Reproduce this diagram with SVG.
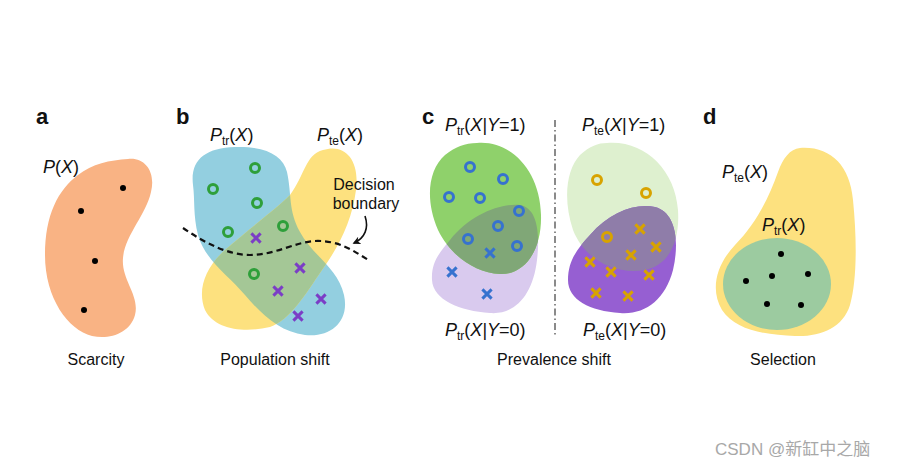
<svg xmlns="http://www.w3.org/2000/svg" xmlns:xlink="http://www.w3.org/1999/xlink" width="900" height="467" viewBox="0 0 900 467">
<style>
text{font-family:"Liberation Sans",Arial,Helvetica,sans-serif;fill:#111}
.lbl{font-size:22px;font-weight:bold}
.cap{font-size:16px;text-anchor:middle}
.m{font-size:18px}
.i{font-style:italic}
.dot{fill:#000}
.wm{font-family:"Liberation Sans","Noto Sans CJK SC",sans-serif;font-size:17px;fill:#a8a8a8}
</style>
<defs>
<circle id="o" r="4.5" fill="none" stroke-width="3"/>
<path id="x" d="M-4.6,-4.6L4.6,4.6M-4.6,4.6L4.6,-4.6" fill="none" stroke-width="3"/>
<path id="bBlue" d="M193,185 C190,160 205,148 235,147 C265,146 283,155 287,172 C292,195 288,210 300,232 C312,255 338,268 344,295 C350,322 330,338 305,335 C280,332 262,315 245,295 C228,275 205,260 198,235 C193,215 195,200 193,185 Z"/>
<path id="bYellow" d="M323,150 C345,143 360,160 356,190 C352,220 340,245 322,270 C305,295 290,320 270,327 C245,333 215,330 205,310 C197,290 205,268 225,250 C250,228 275,210 290,195 C305,175 305,155 323,150 Z"/>
<path id="cGreen" d="M477,143 C510,140 540,170 541,215 C542,250 525,275 500,274 C475,273 450,255 438,230 C425,200 428,170 445,155 C455,147 465,143 477,143 Z"/>
<path id="cLav" d="M450,240 C470,215 500,203 520,205 C538,208 540,235 537,260 C533,295 515,315 490,313 C460,311 433,300 432,280 C431,262 440,252 450,240 Z"/>
<path id="cLight" d="M607,143 C645,140 675,170 678,210 C680,240 670,265 645,270 C615,275 585,260 573,230 C563,200 566,170 580,155 C590,146 598,143 607,143 Z"/>
<path id="cPurple" d="M590,235 C610,212 635,203 655,207 C675,212 680,240 673,270 C665,300 645,315 620,313 C590,311 568,300 568,280 C568,260 578,248 590,235 Z"/>
<clipPath id="clipBlue"><use xlink:href="#bBlue"/></clipPath>
<clipPath id="clipGreen"><use xlink:href="#cGreen"/></clipPath>
<clipPath id="clipLight"><use xlink:href="#cLight"/></clipPath>
<marker id="ah" viewBox="0 0 10 10" refX="8" refY="5" markerWidth="8" markerHeight="8" orient="auto" markerUnits="userSpaceOnUse">
<path d="M0,0 L10,5 L0,10 L3,5 Z" fill="#111"/>
</marker>
</defs>

<g id="panel-a">
<text class="lbl" x="36" y="124">a</text>
<path id="a-blob" d="M128,159 C145,157 156,172 151,192 C146,215 125,235 123,258 C121,280 140,295 135,315 C130,333 110,340 92,336 C68,330 45,298 45,255 C45,215 58,190 78,175 C92,164 110,160 128,159 Z" fill="#F9B384"/>
<circle class="dot" cx="123" cy="188" r="3"/>
<circle class="dot" cx="81" cy="211" r="3"/>
<circle class="dot" cx="95" cy="261" r="3"/>
<circle class="dot" cx="84" cy="310" r="3"/>
<text class="m" x="43" y="173"><tspan class="i">P</tspan>(<tspan class="i">X</tspan>)</text>
<text class="cap" x="96" y="365">Scarcity</text>
</g>

<g id="panel-b">
<text class="lbl" x="176" y="124">b</text>
<g id="b-train">
<use xlink:href="#bBlue" fill="#93CFE0"/>
</g>
<g id="b-test">
<use xlink:href="#bYellow" fill="#FDE17F"/>
<use xlink:href="#bYellow" fill="#A4C796" clip-path="url(#clipBlue)"/>
</g>
<g id="b-points">
<use xlink:href="#o" x="255" y="168" stroke="#2E9F3A"/>
<use xlink:href="#o" x="213" y="189" stroke="#2E9F3A"/>
<use xlink:href="#o" x="257" y="203" stroke="#2E9F3A"/>
<use xlink:href="#o" x="283" y="226" stroke="#2E9F3A"/>
<use xlink:href="#o" x="228" y="232" stroke="#2E9F3A"/>
<use xlink:href="#o" x="254" y="274" stroke="#2E9F3A"/>
<use xlink:href="#x" x="256" y="238" stroke="#7B3DC6"/>
<use xlink:href="#x" x="300" y="268" stroke="#7B3DC6"/>
<use xlink:href="#x" x="278" y="291" stroke="#7B3DC6"/>
<use xlink:href="#x" x="321" y="299" stroke="#7B3DC6"/>
<use xlink:href="#x" x="298" y="316" stroke="#7B3DC6"/>
</g>
<path id="b-boundary" d="M183,228 C205,243 228,255 250,255 C275,255 295,242 315,241 C340,240 355,252 370,261" fill="none" stroke="#111" stroke-width="2.2" stroke-dasharray="6,4"/>
<text class="m" x="210" y="141"><tspan class="i">P</tspan><tspan font-size="12" dy="4">tr</tspan><tspan dy="-4">(</tspan><tspan class="i">X</tspan>)</text>
<text class="m" x="317" y="141"><tspan class="i">P</tspan><tspan font-size="12" dy="4">te</tspan><tspan dy="-4">(</tspan><tspan class="i">X</tspan>)</text>
<text class="cap" x="364" y="190">Decision</text>
<text class="cap" x="366" y="209">boundary</text>
<text class="cap" x="275" y="365">Population shift</text>
</g>

<g id="panel-c">
<text class="lbl" x="422" y="124">c</text>
<g id="c-train">
<use xlink:href="#cLav" fill="#D9CAEE"/>
<use xlink:href="#cGreen" fill="#8FD16B"/>
<use xlink:href="#cLav" fill="#80A777" clip-path="url(#clipGreen)"/>
</g>
<g id="c-test">
<use xlink:href="#cLight" fill="#DEF0CF"/>
<use xlink:href="#cPurple" fill="#965FD2"/>
<use xlink:href="#cPurple" fill="#8F7DA9" clip-path="url(#clipLight)"/>
</g>
<g id="c-points">
<use xlink:href="#o" x="470" y="167" stroke="#3672CF"/>
<use xlink:href="#o" x="503" y="179" stroke="#3672CF"/>
<use xlink:href="#o" x="449" y="197" stroke="#3672CF"/>
<use xlink:href="#o" x="480" y="198" stroke="#3672CF"/>
<use xlink:href="#o" x="519" y="211" stroke="#3672CF"/>
<use xlink:href="#o" x="498" y="226" stroke="#3672CF"/>
<use xlink:href="#o" x="468" y="239" stroke="#3672CF"/>
<use xlink:href="#o" x="517" y="246" stroke="#3672CF"/>
<use xlink:href="#x" x="490" y="253" stroke="#3672CF" stroke-width="2.5"/>
<use xlink:href="#x" x="452" y="272" stroke="#3672CF" stroke-width="2.5"/>
<use xlink:href="#x" x="487" y="294" stroke="#3672CF" stroke-width="2.5"/>
<use xlink:href="#o" x="597" y="180" stroke="#D8A300"/>
<use xlink:href="#o" x="646" y="193" stroke="#D8A300"/>
<use xlink:href="#o" x="607" y="237" stroke="#D8A300"/>
<use xlink:href="#x" x="640" y="229" stroke="#D8A300" stroke-width="2.5"/>
<use xlink:href="#x" x="656" y="247" stroke="#D8A300" stroke-width="2.5"/>
<use xlink:href="#x" x="631" y="255" stroke="#D8A300" stroke-width="2.5"/>
<use xlink:href="#x" x="590" y="262" stroke="#D8A300" stroke-width="2.5"/>
<use xlink:href="#x" x="611" y="272" stroke="#D8A300" stroke-width="2.5"/>
<use xlink:href="#x" x="649" y="275" stroke="#D8A300" stroke-width="2.5"/>
<use xlink:href="#x" x="596" y="293" stroke="#D8A300" stroke-width="2.5"/>
<use xlink:href="#x" x="628" y="296" stroke="#D8A300" stroke-width="2.5"/>
</g>
<line id="c-divider" x1="555" y1="120" x2="555" y2="337" stroke="#8a8a8a" stroke-width="2" stroke-dasharray="7,3,1.5,3"/>
<text class="m" x="445" y="131"><tspan class="i">P</tspan><tspan font-size="12" dy="4">tr</tspan><tspan dy="-4">(</tspan><tspan class="i">X</tspan>|<tspan class="i">Y</tspan>=1)</text>
<text class="m" x="582" y="131"><tspan class="i">P</tspan><tspan font-size="12" dy="4">te</tspan><tspan dy="-4">(</tspan><tspan class="i">X</tspan>|<tspan class="i">Y</tspan>=1)</text>
<text class="m" x="445" y="336"><tspan class="i">P</tspan><tspan font-size="12" dy="4">tr</tspan><tspan dy="-4">(</tspan><tspan class="i">X</tspan>|<tspan class="i">Y</tspan>=0)</text>
<text class="m" x="583" y="336"><tspan class="i">P</tspan><tspan font-size="12" dy="4">te</tspan><tspan dy="-4">(</tspan><tspan class="i">X</tspan>|<tspan class="i">Y</tspan>=0)</text>
<text class="cap" x="554" y="365">Prevalence shift</text>
</g>

<g id="panel-d">
<text class="lbl" x="703" y="124">d</text>
<path id="d-test" d="M800,148 C830,146 850,165 853,200 C857,240 857,280 850,305 C843,328 820,337 795,336 C765,335 735,330 722,310 C710,290 716,265 735,245 C755,225 768,200 778,172 C783,158 790,149 800,148 Z" fill="#FDE17F"/>
<ellipse id="d-train" cx="777" cy="284" rx="54" ry="46" fill="#9CCBA0"/>
<circle class="dot" cx="781" cy="254" r="3"/>
<circle class="dot" cx="746" cy="281" r="3"/>
<circle class="dot" cx="772" cy="276" r="3"/>
<circle class="dot" cx="808" cy="274" r="3"/>
<circle class="dot" cx="767" cy="304" r="3"/>
<circle class="dot" cx="801" cy="305" r="3"/>
<text class="m" x="722" y="178"><tspan class="i">P</tspan><tspan font-size="12" dy="4">te</tspan><tspan dy="-4">(</tspan><tspan class="i">X</tspan>)</text>
<text class="m" x="762" y="231"><tspan class="i">P</tspan><tspan font-size="12" dy="4">tr</tspan><tspan dy="-4">(</tspan><tspan class="i">X</tspan>)</text>
<text class="cap" x="783" y="365">Selection</text>
</g>

<g id="connectors">
<path d="M365,216 C369,228 365,238 354,243" fill="none" stroke="#111" stroke-width="1.6" marker-end="url(#ah)"/>
</g>

<text class="wm" x="715" y="455">CSDN @新缸中之脑</text>
</svg>
